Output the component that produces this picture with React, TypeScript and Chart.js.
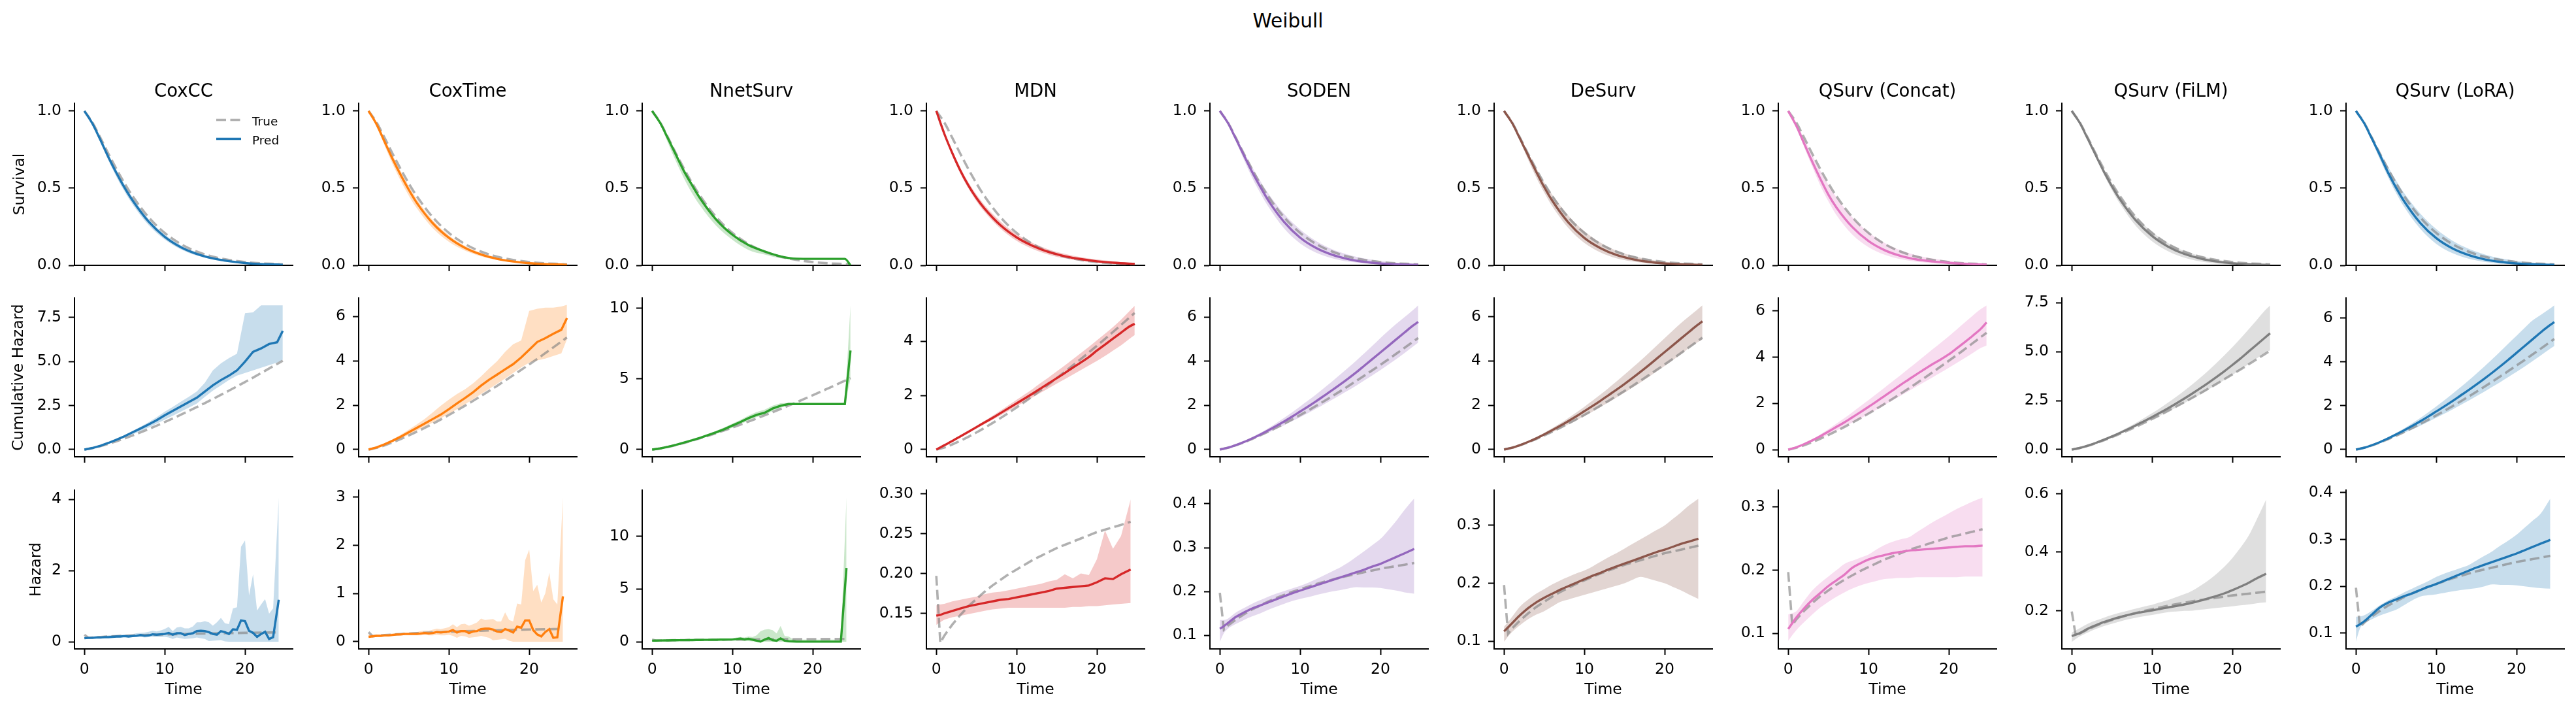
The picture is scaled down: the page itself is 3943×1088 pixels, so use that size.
import React, { useEffect, useRef } from 'react';
import { Chart, registerables } from 'chart.js';

Chart.register(...registerables);

const FONT = '"DejaVu Sans", "Liberation Sans", sans-serif';

// ---------------- text ----------------
const SUPTITLE = 'Weibull';
const MODELS = ['CoxCC', 'CoxTime', 'NnetSurv', 'MDN', 'SODEN', 'DeSurv', 'QSurv (Concat)', 'QSurv (FiLM)', 'QSurv (LoRA)'];
const COLORS = ['#1f77b4', '#ff7f0e', '#2ca02c', '#d62728', '#9467bd', '#8c564b', '#e377c2', '#7f7f7f', '#1f77b4'];
const ROW_LABELS = ['Survival', 'Cumulative Hazard', 'Hazard'];
const X_LABEL = 'Time';
const LEGEND_LABELS = ['True', 'Pred'];
const X_TICKS = [0, 10, 20];

// ---------------- time grids ----------------
const T_SURV = [0, 1, 2, 3, 4, 5, 6, 8, 10, 12, 14, 16, 18, 20, 22, 24, 24.7];
const T_CUM = [0, 1, 2, 3, 4, 5, 6, 7, 8, 9, 10, 11, 12, 13, 14, 15, 16, 17, 18, 19, 20, 21, 22, 23, 24, 24.7];
const T_HAZ = [0, 0.5, 1, 2, 3, 4, 5, 6, 7, 8, 9, 10, 11, 12, 13, 14, 15, 16, 17, 18, 19, 20, 21, 22, 23, 24.2];
const T_HAZ_FINE = [0, 0.5, 1, 1.5, 2, 2.5, 3, 3.5, 4, 4.5, 5, 5.5, 6, 6.5, 7, 7.5, 8, 8.5, 9, 9.5, 10, 10.5, 11, 11.5, 12, 12.5, 13, 13.5, 14, 14.5, 15, 15.5, 16, 16.5, 17, 17.5, 18, 18.5, 19, 19.5, 20, 20.5, 21, 21.5, 22, 22.5, 23, 23.5, 24.2];

// ---------------- true curves ----------------
const TRUE_SURV = [1, 0.925, 0.825, 0.722, 0.623, 0.531, 0.448, 0.311, 0.21, 0.138, 0.089, 0.056, 0.035, 0.021, 0.013, 0.008, 0.006];
const TRUE_CUM = [0, 0.078, 0.192, 0.326, 0.474, 0.633, 0.803, 0.981, 1.167, 1.36, 1.56, 1.765, 1.977, 2.194, 2.416, 2.642, 2.874, 3.11, 3.349, 3.593, 3.84, 4.09, 4.347, 4.606, 4.868, 5.05];
const TRUE_HAZ = [0.197, 0.113, 0.122, 0.136, 0.148, 0.159, 0.168, 0.177, 0.185, 0.192, 0.199, 0.205, 0.211, 0.217, 0.222, 0.227, 0.232, 0.236, 0.24, 0.244, 0.248, 0.252, 0.255, 0.258, 0.261, 0.265];

// ---------------- survival (pred, lower, upper) ----------------
const COXCC_SURV = [1, 0.918, 0.812, 0.7, 0.597, 0.503, 0.42, 0.283, 0.185, 0.118, 0.074, 0.045, 0.027, 0.015, 0.008, 0.005, 0.003];
const COXCC_SURV_LO = [1, 0.91, 0.795, 0.678, 0.572, 0.478, 0.395, 0.26, 0.167, 0.104, 0.063, 0.037, 0.021, 0.011, 0.006, 0.003, 0.002];
const COXCC_SURV_HI = [1, 0.925, 0.825, 0.72, 0.618, 0.525, 0.44, 0.3, 0.2, 0.13, 0.084, 0.052, 0.032, 0.019, 0.011, 0.007, 0.005];
const COXTIME_SURV = [1, 0.913, 0.8, 0.688, 0.585, 0.49, 0.405, 0.272, 0.178, 0.113, 0.07, 0.042, 0.025, 0.014, 0.008, 0.005, 0.003];
const COXTIME_SURV_LO = [1, 0.9, 0.775, 0.655, 0.548, 0.452, 0.37, 0.24, 0.152, 0.095, 0.058, 0.034, 0.02, 0.011, 0.006, 0.004, 0.002];
const COXTIME_SURV_HI = [1, 0.922, 0.82, 0.712, 0.61, 0.515, 0.43, 0.292, 0.195, 0.126, 0.08, 0.05, 0.03, 0.018, 0.011, 0.007, 0.005];
const NNET_SURV = [1, 0.923, 0.819, 0.712, 0.607, 0.517, 0.432, 0.295, 0.198, 0.131, 0.09, 0.058, 0.043, 0.042, 0.042, 0.042, 0];
const NNET_SURV_LO = [1, 0.915, 0.79, 0.67, 0.56, 0.465, 0.385, 0.255, 0.165, 0.1, 0.07, 0.046, 0.04, 0.04, 0.04, 0.04, 0];
const NNET_SURV_HI = [1, 0.93, 0.83, 0.725, 0.622, 0.53, 0.445, 0.305, 0.207, 0.14, 0.097, 0.063, 0.045, 0.043, 0.043, 0.043, 0.001];
const MDN_SURV = [1, 0.852, 0.726, 0.613, 0.517, 0.436, 0.368, 0.259, 0.181, 0.126, 0.086, 0.059, 0.04, 0.026, 0.017, 0.011, 0.0096];
const MDN_SURV_LO = [1, 0.844, 0.712, 0.595, 0.497, 0.415, 0.346, 0.237, 0.159, 0.106, 0.069, 0.045, 0.028, 0.018, 0.011, 0.0061, 0.0049];
const MDN_SURV_HI = [1, 0.861, 0.741, 0.631, 0.538, 0.458, 0.391, 0.284, 0.202, 0.145, 0.103, 0.074, 0.053, 0.038, 0.026, 0.017, 0.015];
const SODEN_SURV = [1, 0.923, 0.819, 0.712, 0.607, 0.512, 0.423, 0.281, 0.179, 0.112, 0.068, 0.04, 0.022, 0.012, 0.0067, 0.0037, 0.0031];
const SODEN_SURV_LO = [1, 0.914, 0.803, 0.684, 0.571, 0.472, 0.383, 0.239, 0.142, 0.082, 0.046, 0.024, 0.013, 0.0064, 0.0033, 0.0018, 0.0015];
const SODEN_SURV_HI = [1, 0.932, 0.835, 0.733, 0.638, 0.549, 0.468, 0.333, 0.232, 0.157, 0.104, 0.069, 0.044, 0.027, 0.017, 0.0096, 0.0079];
const DESURV_SURV = [1, 0.923, 0.819, 0.712, 0.607, 0.507, 0.419, 0.278, 0.177, 0.111, 0.067, 0.04, 0.022, 0.012, 0.0067, 0.0037, 0.0031];
const DESURV_SURV_LO = [1, 0.914, 0.803, 0.684, 0.571, 0.472, 0.383, 0.242, 0.145, 0.084, 0.046, 0.025, 0.013, 0.0065, 0.0033, 0.0018, 0.0015];
const DESURV_SURV_HI = [1, 0.928, 0.827, 0.726, 0.631, 0.538, 0.458, 0.323, 0.221, 0.147, 0.095, 0.061, 0.038, 0.023, 0.014, 0.008, 0.0069];
const CONCAT_SURV = [1, 0.905, 0.787, 0.67, 0.56, 0.458, 0.375, 0.247, 0.157, 0.098, 0.061, 0.038, 0.025, 0.016, 0.0096, 0.0054, 0.0041];
const CONCAT_SURV_LO = [1, 0.896, 0.763, 0.638, 0.517, 0.415, 0.326, 0.198, 0.118, 0.069, 0.04, 0.023, 0.013, 0.0074, 0.0041, 0.0023, 0.002];
const CONCAT_SURV_HI = [1, 0.923, 0.819, 0.712, 0.613, 0.522, 0.44, 0.31, 0.214, 0.145, 0.097, 0.065, 0.044, 0.029, 0.019, 0.012, 0.011];
const FILM_SURV = [1, 0.923, 0.819, 0.712, 0.607, 0.512, 0.427, 0.289, 0.19, 0.121, 0.074, 0.044, 0.025, 0.013, 0.0067, 0.0033, 0.0026];
const FILM_SURV_LO = [1, 0.918, 0.811, 0.698, 0.589, 0.487, 0.399, 0.254, 0.156, 0.091, 0.05, 0.025, 0.012, 0.0054, 0.0022, 0.0008, 0.0006];
const FILM_SURV_HI = [1, 0.928, 0.827, 0.726, 0.625, 0.533, 0.449, 0.317, 0.217, 0.144, 0.093, 0.06, 0.037, 0.022, 0.013, 0.0073, 0.0063];
const LORA_SURV = [1, 0.923, 0.819, 0.712, 0.6, 0.502, 0.415, 0.275, 0.176, 0.11, 0.067, 0.039, 0.022, 0.012, 0.0065, 0.0036, 0.003];
const LORA_SURV_LO = [1, 0.914, 0.803, 0.684, 0.571, 0.468, 0.379, 0.237, 0.139, 0.079, 0.043, 0.022, 0.011, 0.0055, 0.0027, 0.0017, 0.0014];
const LORA_SURV_HI = [1, 0.932, 0.835, 0.733, 0.638, 0.549, 0.468, 0.336, 0.235, 0.16, 0.108, 0.071, 0.045, 0.029, 0.018, 0.0105, 0.0088];

// ---------------- cumulative hazard (pred, lower, upper) ----------------
const COXCC_CUM = [0, 0.09, 0.22, 0.38, 0.56, 0.76, 0.98, 1.2, 1.43, 1.67, 1.95, 2.2, 2.45, 2.7, 2.95, 3.3, 3.65, 3.95, 4.2, 4.5, 5.0, 5.55, 5.75, 6.0, 6.1, 6.75];
const COXCC_CUM_LO = [0, 0.08, 0.2, 0.34, 0.5, 0.67, 0.86, 1.05, 1.25, 1.47, 1.7, 1.92, 2.15, 2.38, 2.62, 3.0, 3.35, 3.65, 3.95, 4.2, 4.35, 4.5, 4.65, 4.8, 4.95, 5.1];
const COXCC_CUM_HI = [0, 0.1, 0.24, 0.41, 0.6, 0.82, 1.06, 1.3, 1.56, 1.84, 2.15, 2.42, 2.72, 3.0, 3.3, 3.8, 4.5, 4.9, 5.2, 5.45, 7.75, 7.8, 8.2, 8.2, 8.2, 8.2];
const COXTIME_CUM = [0, 0.1, 0.24, 0.4, 0.58, 0.78, 0.98, 1.18, 1.38, 1.58, 1.82, 2.08, 2.32, 2.58, 2.88, 3.15, 3.38, 3.62, 3.85, 4.15, 4.5, 4.85, 5.02, 5.22, 5.4, 5.93];
const COXTIME_CUM_LO = [0, 0.08, 0.2, 0.34, 0.5, 0.67, 0.85, 1.03, 1.22, 1.41, 1.61, 1.82, 2.04, 2.27, 2.5, 2.73, 2.97, 3.2, 3.45, 3.7, 3.92, 4.02, 4.1, 4.22, 4.34, 4.97];
const COXTIME_CUM_HI = [0, 0.11, 0.27, 0.46, 0.67, 0.9, 1.13, 1.38, 1.68, 1.98, 2.25, 2.5, 2.72, 2.98, 3.3, 3.65, 3.98, 4.4, 4.75, 4.92, 6.25, 6.35, 6.4, 6.4, 6.45, 6.52];
const NNET_CUM = [0, 0.08, 0.2, 0.34, 0.5, 0.66, 0.84, 1.03, 1.23, 1.45, 1.7, 1.95, 2.22, 2.45, 2.6, 2.9, 3.1, 3.22, 3.22, 3.22, 3.22, 3.22, 3.22, 3.22, 3.22, 7.0];
const NNET_CUM_LO = [0, 0.07, 0.18, 0.31, 0.46, 0.61, 0.77, 0.94, 1.12, 1.32, 1.55, 1.8, 2.05, 2.3, 2.45, 2.72, 2.95, 3.15, 3.2, 3.2, 3.2, 3.2, 3.2, 3.2, 3.2, 5.0];
const NNET_CUM_HI = [0, 0.09, 0.22, 0.37, 0.54, 0.71, 0.9, 1.11, 1.33, 1.57, 1.84, 2.1, 2.4, 2.65, 2.82, 3.1, 3.28, 3.3, 3.25, 3.25, 3.25, 3.25, 3.25, 3.25, 3.25, 10.2];
const MDN_CUM = [0, 0.16, 0.32, 0.49, 0.66, 0.83, 1.0, 1.17, 1.35, 1.53, 1.71, 1.89, 2.07, 2.26, 2.45, 2.64, 2.83, 3.03, 3.22, 3.42, 3.66, 3.88, 4.1, 4.32, 4.54, 4.65];
const MDN_CUM_LO = [0, 0.15, 0.3, 0.46, 0.62, 0.78, 0.94, 1.1, 1.26, 1.43, 1.6, 1.76, 1.93, 2.1, 2.27, 2.44, 2.6, 2.77, 2.94, 3.11, 3.28, 3.46, 3.66, 3.85, 4.08, 4.23];
const MDN_CUM_HI = [0, 0.17, 0.34, 0.52, 0.7, 0.88, 1.06, 1.25, 1.44, 1.64, 1.84, 2.04, 2.24, 2.46, 2.67, 2.89, 3.11, 3.34, 3.57, 3.8, 4.04, 4.28, 4.53, 4.8, 5.1, 5.31];
const SODEN_CUM = [0, 0.08, 0.2, 0.34, 0.5, 0.67, 0.86, 1.06, 1.27, 1.49, 1.72, 1.95, 2.19, 2.44, 2.69, 2.95, 3.22, 3.5, 3.8, 4.1, 4.4, 4.7, 5.0, 5.3, 5.6, 5.78];
const SODEN_CUM_LO = [0, 0.07, 0.18, 0.31, 0.45, 0.6, 0.76, 0.93, 1.1, 1.28, 1.46, 1.65, 1.85, 2.05, 2.26, 2.47, 2.68, 2.9, 3.13, 3.36, 3.6, 3.85, 4.1, 4.37, 4.65, 4.84];
const SODEN_CUM_HI = [0, 0.09, 0.22, 0.38, 0.56, 0.75, 0.96, 1.19, 1.43, 1.68, 1.95, 2.22, 2.5, 2.79, 3.09, 3.4, 3.71, 4.03, 4.36, 4.7, 5.05, 5.38, 5.7, 6.0, 6.3, 6.53];
const DESURV_CUM = [0, 0.08, 0.2, 0.34, 0.5, 0.68, 0.87, 1.07, 1.28, 1.5, 1.73, 1.96, 2.2, 2.45, 2.7, 2.96, 3.23, 3.51, 3.8, 4.1, 4.4, 4.7, 5.0, 5.3, 5.6, 5.79];
const DESURV_CUM_LO = [0, 0.075, 0.19, 0.32, 0.46, 0.62, 0.78, 0.95, 1.13, 1.32, 1.51, 1.71, 1.92, 2.13, 2.35, 2.57, 2.8, 3.03, 3.27, 3.52, 3.77, 4.03, 4.3, 4.57, 4.82, 4.97];
const DESURV_CUM_HI = [0, 0.09, 0.22, 0.38, 0.56, 0.75, 0.96, 1.18, 1.42, 1.67, 1.93, 2.2, 2.48, 2.77, 3.07, 3.38, 3.7, 4.02, 4.35, 4.69, 5.03, 5.37, 5.7, 6.0, 6.3, 6.51];
const CONCAT_CUM = [0, 0.1, 0.24, 0.4, 0.58, 0.78, 0.98, 1.18, 1.4, 1.62, 1.85, 2.08, 2.32, 2.56, 2.8, 3.03, 3.26, 3.48, 3.7, 3.9, 4.12, 4.38, 4.65, 4.93, 5.23, 5.5];
const CONCAT_CUM_LO = [0, 0.08, 0.2, 0.34, 0.49, 0.65, 0.82, 0.99, 1.17, 1.35, 1.54, 1.73, 1.93, 2.13, 2.33, 2.53, 2.73, 2.93, 3.13, 3.33, 3.54, 3.75, 3.96, 4.18, 4.4, 4.5];
const CONCAT_CUM_HI = [0, 0.11, 0.27, 0.45, 0.66, 0.88, 1.12, 1.36, 1.62, 1.88, 2.14, 2.41, 2.68, 2.95, 3.22, 3.5, 3.78, 4.06, 4.34, 4.62, 4.9, 5.2, 5.5, 5.8, 6.08, 6.23];
const FILM_CUM = [0, 0.08, 0.2, 0.34, 0.5, 0.67, 0.85, 1.04, 1.24, 1.45, 1.66, 1.88, 2.11, 2.35, 2.6, 2.86, 3.13, 3.41, 3.7, 4.0, 4.32, 4.65, 5.0, 5.35, 5.7, 5.94];
const FILM_CUM_LO = [0, 0.075, 0.19, 0.32, 0.47, 0.63, 0.8, 0.97, 1.15, 1.34, 1.53, 1.73, 1.94, 2.15, 2.37, 2.59, 2.82, 3.06, 3.3, 3.55, 3.81, 4.08, 4.36, 4.65, 4.92, 5.07];
const FILM_CUM_HI = [0, 0.085, 0.21, 0.36, 0.53, 0.72, 0.92, 1.14, 1.37, 1.61, 1.86, 2.12, 2.4, 2.69, 3.0, 3.33, 3.67, 4.03, 4.41, 4.81, 5.23, 5.67, 6.13, 6.6, 7.08, 7.36];
const LORA_CUM = [0, 0.08, 0.2, 0.34, 0.51, 0.69, 0.88, 1.08, 1.29, 1.51, 1.74, 1.97, 2.21, 2.46, 2.71, 2.97, 3.24, 3.52, 3.81, 4.11, 4.42, 4.73, 5.04, 5.35, 5.64, 5.82];
const LORA_CUM_LO = [0, 0.07, 0.18, 0.31, 0.45, 0.6, 0.76, 0.92, 1.09, 1.27, 1.45, 1.64, 1.83, 2.03, 2.23, 2.44, 2.65, 2.87, 3.09, 3.32, 3.55, 3.79, 4.04, 4.3, 4.56, 4.73];
const LORA_CUM_HI = [0, 0.09, 0.22, 0.38, 0.56, 0.76, 0.97, 1.2, 1.44, 1.7, 1.97, 2.25, 2.54, 2.84, 3.15, 3.47, 3.8, 4.14, 4.49, 4.85, 5.2, 5.56, 5.9, 6.15, 6.4, 6.59];

// ---------------- hazard (pred, lower, upper) ----------------
// CoxCC / CoxTime / NnetSurv on T_HAZ_FINE, the others on T_HAZ
const COXCC_HAZ = [0.10, 0.11, 0.11, 0.12, 0.12, 0.13, 0.13, 0.14, 0.15, 0.15, 0.16, 0.15, 0.16, 0.17, 0.19, 0.17, 0.18, 0.21, 0.20, 0.21, 0.22, 0.25, 0.20, 0.24, 0.24, 0.19, 0.22, 0.24, 0.30, 0.31, 0.30, 0.27, 0.22, 0.20, 0.30, 0.27, 0.22, 0.35, 0.34, 0.60, 0.58, 0.31, 0.25, 0.14, 0.22, 0.28, 0.08, 0.13, 1.18];
const COXCC_HAZ_LO = [0.08, 0.09, 0.09, 0.10, 0.10, 0.11, 0.11, 0.12, 0.12, 0.13, 0.13, 0.12, 0.13, 0.13, 0.14, 0.12, 0.13, 0.14, 0.13, 0.13, 0.14, 0.12, 0.08, 0.12, 0.10, 0.08, 0.09, 0.10, 0.12, 0.10, 0.08, 0.02, 0.03, 0.04, 0.05, 0.01, 0, 0, 0, 0, 0, 0, 0, 0, 0, 0, 0, 0, 0];
const COXCC_HAZ_HI = [0.15, 0.15, 0.15, 0.16, 0.16, 0.17, 0.18, 0.19, 0.19, 0.20, 0.20, 0.21, 0.22, 0.24, 0.25, 0.26, 0.28, 0.31, 0.29, 0.32, 0.36, 0.42, 0.30, 0.40, 0.42, 0.38, 0.38, 0.43, 0.55, 0.55, 0.58, 0.55, 0.45, 0.55, 0.67, 0.52, 0.50, 0.94, 0.97, 2.67, 2.85, 1.30, 1.90, 0.88, 1.05, 1.20, 0.79, 0.94, 4.05];
const COXTIME_HAZ = [0.10, 0.11, 0.12, 0.12, 0.13, 0.13, 0.14, 0.15, 0.15, 0.16, 0.16, 0.16, 0.16, 0.17, 0.18, 0.17, 0.18, 0.20, 0.19, 0.20, 0.21, 0.24, 0.19, 0.22, 0.22, 0.18, 0.21, 0.22, 0.26, 0.27, 0.27, 0.25, 0.21, 0.20, 0.26, 0.23, 0.19, 0.31, 0.29, 0.44, 0.44, 0.24, 0.15, 0.11, 0.20, 0.26, 0.08, 0.09, 0.94];
const COXTIME_HAZ_LO = [0.08, 0.09, 0.10, 0.10, 0.11, 0.11, 0.12, 0.12, 0.13, 0.13, 0.13, 0.13, 0.13, 0.13, 0.14, 0.13, 0.13, 0.14, 0.13, 0.13, 0.14, 0.12, 0.08, 0.12, 0.11, 0.08, 0.09, 0.10, 0.12, 0.10, 0.08, 0.03, 0.04, 0.05, 0.06, 0.02, 0, 0, 0, 0, 0, 0, 0, 0, 0, 0, 0, 0, 0];
const COXTIME_HAZ_HI = [0.14, 0.14, 0.15, 0.15, 0.16, 0.16, 0.17, 0.18, 0.18, 0.19, 0.19, 0.20, 0.20, 0.22, 0.23, 0.23, 0.25, 0.27, 0.26, 0.28, 0.30, 0.36, 0.30, 0.36, 0.37, 0.33, 0.36, 0.40, 0.48, 0.45, 0.46, 0.47, 0.42, 0.42, 0.61, 0.45, 0.42, 0.79, 0.77, 1.69, 1.91, 1.05, 1.18, 0.81, 1.00, 1.43, 0.88, 0.77, 2.99];
const NNET_HAZ = [0.10, 0.11, 0.12, 0.13, 0.13, 0.14, 0.14, 0.15, 0.15, 0.16, 0.16, 0.17, 0.17, 0.18, 0.18, 0.19, 0.19, 0.20, 0.20, 0.21, 0.21, 0.25, 0.30, 0.22, 0.28, 0.20, 0.10, 0.02, 0.20, 0.35, 0.15, 0.10, 0.32, 0.10, 0.05, 0.03, 0.01, 0.01, 0.01, 0.01, 0.01, 0.01, 0.01, 0.01, 0.01, 0.01, 0.01, 0.01, 7.0];
const NNET_HAZ_LO = [0.06, 0.07, 0.08, 0.09, 0.09, 0.10, 0.10, 0.10, 0.11, 0.11, 0.11, 0.12, 0.12, 0.12, 0.12, 0.13, 0.13, 0.13, 0.13, 0.14, 0.14, 0.12, 0.10, 0.08, 0.06, 0.04, 0.02, 0, 0, 0, 0, 0, 0, 0, 0, 0, 0, 0, 0, 0, 0, 0, 0, 0, 0, 0, 0, 0, 0];
const NNET_HAZ_HI = [0.15, 0.16, 0.17, 0.18, 0.18, 0.19, 0.19, 0.20, 0.21, 0.22, 0.22, 0.23, 0.24, 0.25, 0.25, 0.26, 0.27, 0.28, 0.29, 0.30, 0.32, 0.40, 0.45, 0.40, 0.50, 0.45, 0.60, 1.00, 1.15, 1.20, 1.10, 0.80, 1.50, 0.55, 0.50, 0.25, 0.20, 0.20, 0.20, 0.20, 0.20, 0.20, 0.20, 0.20, 0.20, 0.20, 0.20, 0.20, 13.7];
const MDN_HAZ = [0.147, 0.148, 0.15, 0.153, 0.156, 0.159, 0.161, 0.163, 0.165, 0.167, 0.168, 0.17, 0.172, 0.174, 0.176, 0.178, 0.181, 0.182, 0.183, 0.184, 0.185, 0.189, 0.194, 0.193, 0.199, 0.205];
const MDN_HAZ_LO = [0.1355, 0.139, 0.142, 0.145, 0.147, 0.149, 0.151, 0.153, 0.155, 0.156, 0.157, 0.157, 0.157, 0.157, 0.157, 0.157, 0.157, 0.157, 0.158, 0.158, 0.159, 0.159, 0.16, 0.161, 0.162, 0.163];
const MDN_HAZ_HI = [0.16, 0.161, 0.162, 0.165, 0.167, 0.169, 0.171, 0.174, 0.176, 0.177, 0.179, 0.181, 0.183, 0.185, 0.187, 0.19, 0.192, 0.199, 0.194, 0.2, 0.198, 0.218, 0.254, 0.231, 0.247, 0.293];
const SODEN_HAZ = [0.115, 0.121, 0.128, 0.142, 0.152, 0.161, 0.168, 0.175, 0.182, 0.189, 0.196, 0.202, 0.208, 0.214, 0.22, 0.226, 0.232, 0.238, 0.244, 0.25, 0.257, 0.263, 0.271, 0.279, 0.287, 0.297];
const SODEN_HAZ_LO = [0.085, 0.105, 0.115, 0.126, 0.135, 0.143, 0.15, 0.158, 0.165, 0.172, 0.178, 0.183, 0.187, 0.192, 0.196, 0.2, 0.203, 0.207, 0.21, 0.209, 0.209, 0.208, 0.205, 0.202, 0.198, 0.195];
const SODEN_HAZ_HI = [0.135, 0.135, 0.138, 0.152, 0.162, 0.172, 0.18, 0.188, 0.195, 0.201, 0.207, 0.213, 0.22, 0.228, 0.237, 0.246, 0.255, 0.266, 0.279, 0.292, 0.306, 0.32, 0.34, 0.362, 0.386, 0.412];
const DESURV_HAZ = [0.117, 0.124, 0.131, 0.145, 0.157, 0.167, 0.175, 0.182, 0.189, 0.195, 0.201, 0.207, 0.213, 0.218, 0.224, 0.229, 0.234, 0.239, 0.244, 0.249, 0.254, 0.258, 0.263, 0.268, 0.272, 0.277];
const DESURV_HAZ_LO = [0.099, 0.108, 0.116, 0.128, 0.138, 0.146, 0.152, 0.16, 0.168, 0.172, 0.176, 0.18, 0.184, 0.188, 0.192, 0.196, 0.2, 0.206, 0.211, 0.208, 0.204, 0.2, 0.194, 0.188, 0.181, 0.173];
const DESURV_HAZ_HI = [0.125, 0.133, 0.142, 0.16, 0.172, 0.182, 0.19, 0.198, 0.205, 0.211, 0.217, 0.222, 0.229, 0.237, 0.245, 0.252, 0.26, 0.268, 0.276, 0.284, 0.292, 0.3, 0.311, 0.322, 0.334, 0.346];
const CONCAT_HAZ = [0.107, 0.116, 0.125, 0.14, 0.153, 0.164, 0.175, 0.184, 0.193, 0.204, 0.211, 0.217, 0.221, 0.224, 0.227, 0.229, 0.231, 0.232, 0.233, 0.234, 0.235, 0.236, 0.237, 0.238, 0.238, 0.239];
const CONCAT_HAZ_LO = [0.088, 0.097, 0.105, 0.118, 0.13, 0.141, 0.15, 0.158, 0.165, 0.171, 0.176, 0.18, 0.183, 0.186, 0.187, 0.188, 0.188, 0.189, 0.189, 0.189, 0.189, 0.189, 0.189, 0.19, 0.19, 0.19];
const CONCAT_HAZ_HI = [0.13, 0.132, 0.135, 0.152, 0.168, 0.18, 0.19, 0.2, 0.21, 0.215, 0.22, 0.225, 0.233, 0.24, 0.245, 0.249, 0.252, 0.26, 0.268, 0.276, 0.283, 0.29, 0.297, 0.303, 0.309, 0.315];
const FILM_HAZ = [0.113, 0.118, 0.123, 0.138, 0.15, 0.161, 0.17, 0.178, 0.185, 0.191, 0.196, 0.201, 0.206, 0.211, 0.216, 0.221, 0.227, 0.234, 0.242, 0.25, 0.259, 0.27, 0.282, 0.295, 0.31, 0.326];
const FILM_HAZ_LO = [0.093, 0.103, 0.112, 0.125, 0.137, 0.147, 0.155, 0.163, 0.17, 0.176, 0.181, 0.185, 0.19, 0.195, 0.197, 0.199, 0.2, 0.203, 0.206, 0.209, 0.212, 0.215, 0.218, 0.221, 0.225, 0.228];
const FILM_HAZ_HI = [0.125, 0.132, 0.14, 0.155, 0.166, 0.176, 0.185, 0.193, 0.2, 0.207, 0.214, 0.22, 0.228, 0.236, 0.246, 0.256, 0.268, 0.285, 0.303, 0.325, 0.35, 0.38, 0.415, 0.455, 0.51, 0.58];
const LORA_HAZ = [0.114, 0.119, 0.125, 0.14, 0.155, 0.165, 0.172, 0.179, 0.185, 0.192, 0.199, 0.205, 0.212, 0.219, 0.226, 0.233, 0.24, 0.246, 0.252, 0.258, 0.264, 0.27, 0.277, 0.284, 0.291, 0.299];
const LORA_HAZ_LO = [0.082, 0.11, 0.12, 0.13, 0.138, 0.144, 0.15, 0.16, 0.17, 0.178, 0.181, 0.183, 0.186, 0.189, 0.192, 0.194, 0.196, 0.2, 0.204, 0.203, 0.203, 0.202, 0.2, 0.198, 0.196, 0.195];
const LORA_HAZ_HI = [0.135, 0.136, 0.138, 0.148, 0.16, 0.17, 0.178, 0.187, 0.195, 0.203, 0.211, 0.22, 0.227, 0.233, 0.239, 0.245, 0.255, 0.265, 0.275, 0.287, 0.298, 0.31, 0.325, 0.34, 0.355, 0.387];

// ---------------- axis ranges and ticks ----------------
const X_RANGE = [-1.235, 25.935];
const SURV_RANGE = [0, 1.05];
const SURV_TICKS = [0, 0.5, 1.0];
const CUM_RANGES = [[-0.41, 8.61], [-0.325, 6.83], [-0.51, 10.71], [-0.266, 5.6], [-0.33, 6.86], [-0.33, 6.84], [-0.31, 6.55], [-0.37, 7.74], [-0.33, 6.92]];
const CUM_TICKS = [[0, 2.5, 5, 7.5], [0, 2, 4, 6], [0, 5, 10], [0, 2, 4], [0, 2, 4, 6], [0, 2, 4, 6], [0, 2, 4, 6], [0, 2.5, 5, 7.5], [0, 2, 4, 6]];
const CUM_DECIMALS = [1, 0, 0, 0, 0, 0, 0, 1, 0];
const HAZ_RANGES = [[-0.2, 4.26], [-0.15, 3.14], [-0.68, 14.38], [0.1053, 0.3046], [0.069, 0.431], [0.0867, 0.3608], [0.0754, 0.3267], [0.069, 0.612], [0.0665, 0.405]];
const HAZ_TICKS = [[0, 2, 4], [0, 1, 2, 3], [0, 5, 10], [0.15, 0.2, 0.25, 0.3], [0.1, 0.2, 0.3, 0.4], [0.1, 0.2, 0.3], [0.1, 0.2, 0.3], [0.2, 0.4, 0.6], [0.1, 0.2, 0.3, 0.4]];
const HAZ_DECIMALS = [0, 0, 0, 2, 1, 1, 1, 1, 1];

const SURV_PRED = [COXCC_SURV, COXTIME_SURV, NNET_SURV, MDN_SURV, SODEN_SURV, DESURV_SURV, CONCAT_SURV, FILM_SURV, LORA_SURV];
const SURV_LO = [COXCC_SURV_LO, COXTIME_SURV_LO, NNET_SURV_LO, MDN_SURV_LO, SODEN_SURV_LO, DESURV_SURV_LO, CONCAT_SURV_LO, FILM_SURV_LO, LORA_SURV_LO];
const SURV_HI = [COXCC_SURV_HI, COXTIME_SURV_HI, NNET_SURV_HI, MDN_SURV_HI, SODEN_SURV_HI, DESURV_SURV_HI, CONCAT_SURV_HI, FILM_SURV_HI, LORA_SURV_HI];
const CUM_PRED = [COXCC_CUM, COXTIME_CUM, NNET_CUM, MDN_CUM, SODEN_CUM, DESURV_CUM, CONCAT_CUM, FILM_CUM, LORA_CUM];
const CUM_LO = [COXCC_CUM_LO, COXTIME_CUM_LO, NNET_CUM_LO, MDN_CUM_LO, SODEN_CUM_LO, DESURV_CUM_LO, CONCAT_CUM_LO, FILM_CUM_LO, LORA_CUM_LO];
const CUM_HI = [COXCC_CUM_HI, COXTIME_CUM_HI, NNET_CUM_HI, MDN_CUM_HI, SODEN_CUM_HI, DESURV_CUM_HI, CONCAT_CUM_HI, FILM_CUM_HI, LORA_CUM_HI];
const HAZ_PRED = [COXCC_HAZ, COXTIME_HAZ, NNET_HAZ, MDN_HAZ, SODEN_HAZ, DESURV_HAZ, CONCAT_HAZ, FILM_HAZ, LORA_HAZ];
const HAZ_LO = [COXCC_HAZ_LO, COXTIME_HAZ_LO, NNET_HAZ_LO, MDN_HAZ_LO, SODEN_HAZ_LO, DESURV_HAZ_LO, CONCAT_HAZ_LO, FILM_HAZ_LO, LORA_HAZ_LO];
const HAZ_HI = [COXCC_HAZ_HI, COXTIME_HAZ_HI, NNET_HAZ_HI, MDN_HAZ_HI, SODEN_HAZ_HI, DESURV_HAZ_HI, CONCAT_HAZ_HI, FILM_HAZ_HI, LORA_HAZ_HI];
const FINE_HAZ_GRID = [true, true, true, false, false, false, false, false, false];
const STRAIGHT_CUM = [true, true, true, false, false, false, false, false, false];
const STRAIGHT_HAZ = [true, true, true, true, false, false, false, false, false];

// ---------------- layout (pixels) ----------------
const PAGE_W = 3943;
const PAGE_H = 1088;
const AREA_LEFT0 = 114;
const COL_STEP = 434.6;
const AREA_W = 334;
const AREA_TOPS = [158, 451, 745];
const AREA_H = 248;
const TICK_FONT = 23.5;
const LABEL_FONT = 23.5;
const TITLE_FONT = 27.5;
const TRUE_COLOR = 'rgba(128,128,128,0.62)';
const PRED_WIDTH = 3.4;
const TRUE_WIDTH = 3.6;
const TRUE_DASH = [15, 6.5];

function hexToRgba(hex: string, a: number) {
  const n = parseInt(hex.slice(1), 16);
  return `rgba(${(n >> 16) & 255},${(n >> 8) & 255},${n & 255},${a})`;
}

const pts = (xs: number[], ys: number[]) => xs.map((x, i) => ({ x, y: ys[i] }));

type Geo = { left: number; top: number; w: number; h: number; yW: number; padTop: number; padRight: number; xH: number };

function geometry(r: number, c: number): Geo {
  const areaLeft = Math.round(AREA_LEFT0 + c * COL_STEP);
  const areaTop = AREA_TOPS[r];
  let yW = 100;
  if (c === 0) yW = r === 0 ? 97 : r === 1 ? 99 : 72;
  const padTop = r === 0 ? 52 : 20;
  const padRight = 22;
  const xH = r === 2 ? 80 : 30;
  return {
    left: areaLeft - yW,
    top: areaTop - padTop,
    w: yW + AREA_W + padRight,
    h: padTop + AREA_H + xH,
    yW, padTop, padRight, xH,
  };
}

function buildConfig(r: number, c: number, g: Geo): any {
  const color = COLORS[c];
  let tPred: number[], pred: number[], lo: number[], hi: number[], tTrue: number[], tru: number[];
  let yr: number[], yt: number[], dec: number, smoothPred: boolean;
  if (r === 0) {
    tPred = T_SURV; pred = SURV_PRED[c]; lo = SURV_LO[c]; hi = SURV_HI[c];
    tTrue = T_SURV; tru = TRUE_SURV; yr = SURV_RANGE; yt = SURV_TICKS; dec = 1; smoothPred = true;
  } else if (r === 1) {
    tPred = T_CUM; pred = CUM_PRED[c]; lo = CUM_LO[c]; hi = CUM_HI[c];
    tTrue = T_CUM; tru = TRUE_CUM; yr = CUM_RANGES[c]; yt = CUM_TICKS[c]; dec = CUM_DECIMALS[c]; smoothPred = !STRAIGHT_CUM[c];
  } else {
    tPred = FINE_HAZ_GRID[c] ? T_HAZ_FINE : T_HAZ; pred = HAZ_PRED[c]; lo = HAZ_LO[c]; hi = HAZ_HI[c];
    tTrue = T_HAZ; tru = TRUE_HAZ; yr = HAZ_RANGES[c]; yt = HAZ_TICKS[c]; dec = HAZ_DECIMALS[c]; smoothPred = !STRAIGHT_HAZ[c];
  }
  const mode = smoothPred ? 'monotone' : 'default';
  const trueMode = r === 2 ? 'default' : 'monotone';
  const datasets = [
    { label: 'Pred', data: pts(tPred, pred), borderColor: color, borderWidth: PRED_WIDTH, pointRadius: 0, fill: false, cubicInterpolationMode: mode, tension: 0 },
    { label: 'True', data: pts(tTrue, tru), borderColor: TRUE_COLOR, borderWidth: TRUE_WIDTH, borderDash: TRUE_DASH, pointRadius: 0, fill: false, cubicInterpolationMode: trueMode, tension: 0 },
    { label: 'lo', data: pts(tPred, lo), borderColor: 'rgba(0,0,0,0)', borderWidth: 1, pointRadius: 0, fill: false, cubicInterpolationMode: mode, tension: 0 },
    { label: 'hi', data: pts(tPred, hi), borderColor: 'rgba(0,0,0,0)', borderWidth: 1, pointRadius: 0, backgroundColor: hexToRgba(color, 0.25), fill: '-1', cubicInterpolationMode: mode, tension: 0 },
  ];
  const fmt = (v: number, d: number) => v.toFixed(d);
  const panelPlugin = {
    id: 'panelText',
    afterDraw(chart: any) {
      const { ctx, chartArea } = chart;
      ctx.save();
      if (r === 0) {
        ctx.font = `${TITLE_FONT}px ${FONT}`;
        ctx.fillStyle = '#000';
        ctx.textAlign = 'center';
        ctx.textBaseline = 'alphabetic';
        ctx.fillText(MODELS[c], (chartArea.left + chartArea.right) / 2, chartArea.top - 10);
      }
      if (r === 0 && c === 0) {
        const x1 = chartArea.right - 117;
        const x2 = chartArea.right - 79;
        const yA = chartArea.top + 25.5;
        const yB = chartArea.top + 54.5;
        ctx.lineWidth = TRUE_WIDTH;
        ctx.strokeStyle = TRUE_COLOR;
        ctx.setLineDash(TRUE_DASH);
        ctx.beginPath(); ctx.moveTo(x1, yA); ctx.lineTo(x2, yA); ctx.stroke();
        ctx.setLineDash([]);
        ctx.lineWidth = PRED_WIDTH;
        ctx.strokeStyle = color;
        ctx.beginPath(); ctx.moveTo(x1, yB); ctx.lineTo(x2, yB); ctx.stroke();
        ctx.font = `18.5px ${FONT}`;
        ctx.fillStyle = '#000';
        ctx.textAlign = 'left';
        ctx.textBaseline = 'alphabetic';
        ctx.fillText(LEGEND_LABELS[0], chartArea.right - 62, yA + 8);
        ctx.fillText(LEGEND_LABELS[1], chartArea.right - 62, yB + 8);
      }
      ctx.restore();
    },
  };
  const gridOpts = { display: true, drawOnChartArea: false, drawTicks: true, tickLength: 9, tickWidth: 2, tickColor: '#000' };
  const borderOpts = { display: true, color: '#000', width: 2 };
  return {
    type: 'line',
    data: { datasets },
    options: {
      animation: false,
      responsive: false,
      devicePixelRatio: 1,
      events: [],
      layout: { padding: { top: g.padTop, right: g.padRight, left: 0, bottom: 0 } },
      plugins: { legend: { display: false }, tooltip: { enabled: false }, title: { display: false } },
      scales: {
        x: {
          type: 'linear',
          min: X_RANGE[0],
          max: X_RANGE[1],
          afterBuildTicks: (axis: any) => { axis.ticks = X_TICKS.map((v) => ({ value: v })); },
          afterFit: (axis: any) => { axis.height = g.xH; },
          ticks: {
            autoSkip: false,
            maxRotation: 0,
            padding: 9,
            color: '#000',
            font: { family: FONT, size: TICK_FONT },
            callback: (v: number) => (r === 2 ? String(v) : ''),
          },
          grid: gridOpts,
          border: borderOpts,
          title: { display: r === 2, text: X_LABEL, color: '#000', font: { family: FONT, size: LABEL_FONT }, padding: { top: 0, bottom: 3 } },
        },
        y: {
          type: 'linear',
          min: yr[0],
          max: yr[1],
          afterBuildTicks: (axis: any) => { axis.ticks = yt.map((v) => ({ value: v })); },
          afterFit: (axis: any) => { axis.width = g.yW; },
          ticks: {
            autoSkip: false,
            padding: 11,
            color: '#000',
            font: { family: FONT, size: TICK_FONT },
            callback: (v: number) => fmt(v, dec),
          },
          grid: gridOpts,
          border: borderOpts,
          title: { display: c === 0, text: ROW_LABELS[r], color: '#000', font: { family: FONT, size: LABEL_FONT }, padding: { top: 0, bottom: 0 } },
        },
      },
    },
    plugins: [panelPlugin],
  };
}

function Panel({ r, c }: { r: number; c: number }) {
  const ref = useRef<HTMLCanvasElement | null>(null);
  const g = geometry(r, c);
  useEffect(() => {
    if (!ref.current) return;
    const chart = new Chart(ref.current, buildConfig(r, c, g));
    return () => chart.destroy();
  }, []);
  return (
    <canvas
      ref={ref}
      width={g.w}
      height={g.h}
      style={{ position: 'absolute', left: g.left, top: g.top, width: g.w, height: g.h }}
    />
  );
}

export default function App() {
  const cells: React.ReactNode[] = [];
  for (let r = 0; r < 3; r++) {
    for (let c = 0; c < MODELS.length; c++) {
      cells.push(<Panel key={`${r}-${c}`} r={r} c={c} />);
    }
  }
  return (
    <div style={{ position: 'absolute', left: 0, top: 0, width: PAGE_W, height: PAGE_H, background: '#fff', overflow: 'hidden' }}>
      <div
        style={{
          position: 'absolute', left: 0, top: 18, width: PAGE_W, textAlign: 'center',
          fontFamily: FONT, fontSize: 29.6, lineHeight: '29.6px', color: '#000',
        }}
      >
        {SUPTITLE}
      </div>
      {cells}
    </div>
  );
}
